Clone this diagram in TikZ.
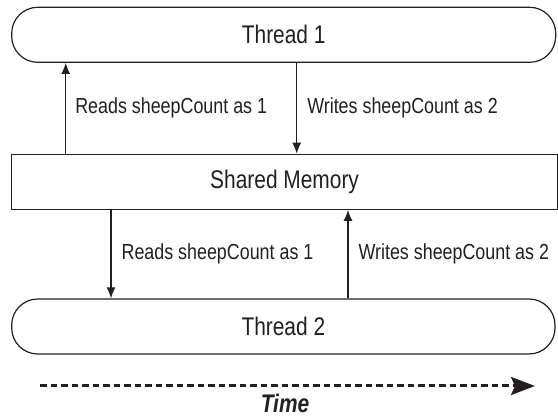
\documentclass[tikz,border=0pt]{standalone}
\usepackage{fontspec}
\setmainfont{Liberation Sans}[FakeStretch=0.82]
\usetikzlibrary{arrows.meta,positioning}
\definecolor{encre}{HTML}{231F20}
\begin{document}
\begin{tikzpicture}[x=1pt,y=1pt,
    boite/.style={draw=encre, line width=1.2pt, minimum height=55pt, inner sep=0pt,
      text=encre, font=\fontsize{25.5}{30}\selectfont},
    fil/.style={rounded corners=26pt},
    fleche/.style={draw=encre, line width=1.2pt, -{Latex[length=11pt,width=9pt]}},
    legende/.style={inner sep=0pt, text=encre, font=\fontsize{21.8}{26}\selectfont},
  ]
  \useasboundingbox (0,0) rectangle (558,-417);

  % Threads et memoire
  \node[boite, fil, minimum width=544pt] (t1) at (283.7,-34.8) {Thread 1};
  \node[boite, minimum width=545.8pt] (mem) at (284.6,-181.8) {Shared Memory};
  \node[boite, fil, minimum width=543.3pt] (t2) at (283.35,-326.5) {Thread 2};

  % Lectures / ecritures
  \coordinate (a1) at (65.7,0);
  \coordinate (a2) at (296.7,0);
  \coordinate (a3) at (111,0);
  \coordinate (a4) at (348,0);
  \draw[fleche] (a1 |- mem.north) -- (a1 |- t1.south)
    node[legende, midway, right=9pt] (l1) {Reads sheepCount as 1};
  \draw[fleche] (a2 |- t1.south) -- (a2 |- mem.north)
    node[legende, midway, right=10pt] (l2) {Writes sheepCount as 2};
  \draw[fleche] (a3 |- mem.south) -- (a3 |- t2.north)
    node[legende, midway, right=10pt] (l3) {Reads sheepCount as 1};
  \draw[fleche] (a4 |- t2.north) -- (a4 |- mem.south)
    node[legende, midway, right=10pt] (l4) {Writes sheepCount as 2};

  % Temps
  \coordinate (d0) at (40,-386);
  \coordinate (d1) at (535,-386);
  \draw[encre, line width=3pt, dash pattern=on 6.5pt off 4pt,
    -{Stealth[length=24pt,width=18pt,inset=4pt]}] (d0) -- (d1);
  \node[anchor=base, text=encre, inner sep=0pt,
    font=\fontsize{25.5}{30}\selectfont\bfseries\itshape] (temps) at (285,-412.5) {Time};
\end{tikzpicture}
\end{document}
